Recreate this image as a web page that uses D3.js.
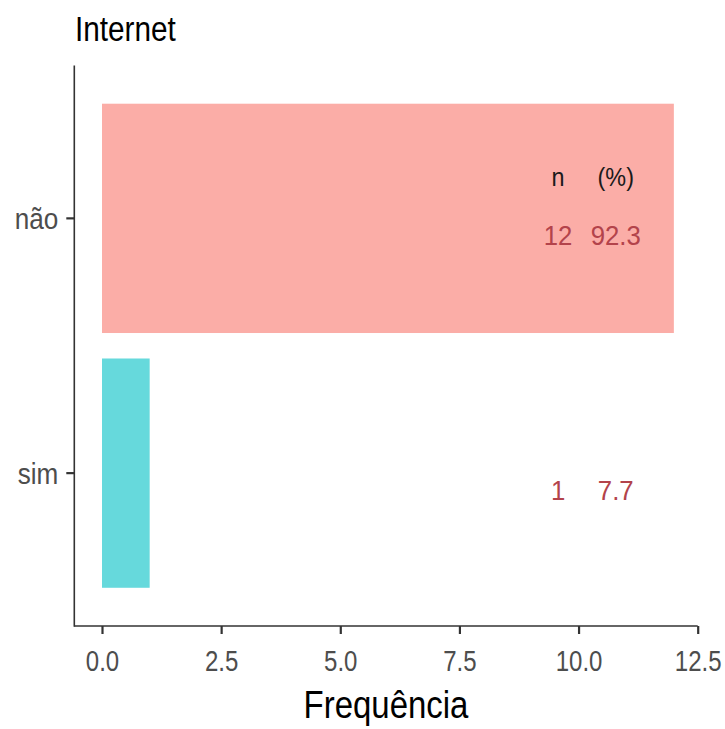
<!DOCTYPE html>
<html>
<head>
<meta charset="utf-8">
<script src="https://cdn.jsdelivr.net/npm/d3@7"></script>
<style>
  html, body { margin: 0; padding: 0; background: #fff; }
  svg { display: block; }
  text { font-family: "Liberation Sans", Arial, sans-serif; }
</style>
</head>
<body>
<div id="chart"></div>
<script>
// ---- data ----
const categories = ["não", "sim"];
const counts = [12, 1];
const percents = ["92.3", "7.7"];
const barColors = ["#F8766D", "#00BFC4"];
const xTicks = [0, 2.5, 5, 7.5, 10, 12.5];
const xTickLabels = ["0.0", "2.5", "5.0", "7.5", "10.0", "12.5"];
const headerLabels = ["n", "(%)"];
const titleText = "Internet";
const xAxisTitle = "Frequência";
// annotation columns, in data units
const annotX = [9.57, 10.78];

const W = 725, H = 729;
const svg = d3.select("#chart").append("svg").attr("width", W).attr("height", H);

// horizontally condense a text (emulates a narrow font)
function narrow(sel, k) {
  sel.each(function () {
    const t = d3.select(this);
    const tx = +t.attr("x") || 0, ty = +t.attr("y") || 0;
    t.attr("x", 0).attr("y", 0)
     .attr("transform", `translate(${tx},${ty}) scale(${k},1)`);
  });
}

const x = d3.scaleLinear().domain([0, 12.5]).range([102, 697.7]);
const y = d3.scaleBand().domain(categories).range([65.5, 626]).paddingInner(0.1).paddingOuter(0.15);

// bars
svg.append("g").selectAll("rect")
  .data(categories)
  .join("rect")
  .attr("x", x(0))
  .attr("y", d => y(d))
  .attr("width", (d, i) => x(counts[i]) - x(0))
  .attr("height", y.bandwidth())
  .attr("fill", (d, i) => barColors[i])
  .attr("fill-opacity", 0.6);

// annotations
const first = categories[0];
svg.append("g").selectAll("text")
  .data(headerLabels)
  .join("text")
  .attr("x", (d, i) => x(annotX[i]))
  .attr("y", y(first) + y.bandwidth() / 2 - 32)
  .attr("text-anchor", "middle")
  .attr("font-size", 26)
  .attr("fill", "#1a1a1a")
  .text(d => d)
  .call(narrow, 0.9);

const rows = svg.append("g").selectAll("g")
  .data(categories)
  .join("g");
rows.append("text")
  .attr("x", x(annotX[0]))
  .attr("y", d => y(d) + y.bandwidth() / 2 + 27)
  .attr("text-anchor", "middle")
  .attr("font-size", 28)
  .attr("fill", "#B3434B")
  .text((d, i) => counts[i])
  .call(narrow, 0.92);
rows.append("text")
  .attr("x", x(annotX[1]))
  .attr("y", d => y(d) + y.bandwidth() / 2 + 27)
  .attr("text-anchor", "middle")
  .attr("font-size", 28)
  .attr("fill", "#B3434B")
  .text((d, i) => percents[i])
  .call(narrow, 0.92);

// axes
const xAxis = svg.append("g")
  .attr("transform", "translate(0,626)")
  .call(d3.axisBottom(x).tickValues(xTicks).tickFormat((d, i) => xTickLabels[i]).tickSize(8).tickSizeOuter(0));
xAxis.select(".domain").attr("d", "M74.3,0H697.7");

const yAxis = svg.append("g")
  .attr("transform", "translate(74.3,0)")
  .call(d3.axisLeft(y).tickSize(8).tickSizeOuter(0));
yAxis.select(".domain").attr("d", "M0,65.5V626.8");

[xAxis, yAxis].forEach(g => {
  g.select(".domain").attr("stroke", "#333").attr("stroke-width", 1.6);
  g.selectAll(".tick line").attr("stroke", "#333").attr("stroke-width", 2.2);
  g.selectAll(".tick text")
    .attr("fill", "#4d4d4d")
    .attr("font-size", 30)
    .style("font-family", '"Liberation Sans", Arial, sans-serif');
});
xAxis.selectAll(".tick text").attr("dy", 0).attr("y", 45).call(narrow, 0.8);
yAxis.selectAll(".tick text").attr("x", -16).attr("y", 0).attr("dy", "0.35em").call(narrow, 0.87);

// title
svg.append("text")
  .attr("x", 75).attr("y", 41)
  .attr("font-size", 35)
  .attr("fill", "#000")
  .text(titleText)
  .call(narrow, 0.85);

svg.append("text")
  .attr("x", (74.3 + 697.7) / 2).attr("y", 718)
  .attr("text-anchor", "middle")
  .attr("font-size", 39)
  .attr("fill", "#000")
  .text(xAxisTitle)
  .call(narrow, 0.845);
</script>
</body>
</html>
